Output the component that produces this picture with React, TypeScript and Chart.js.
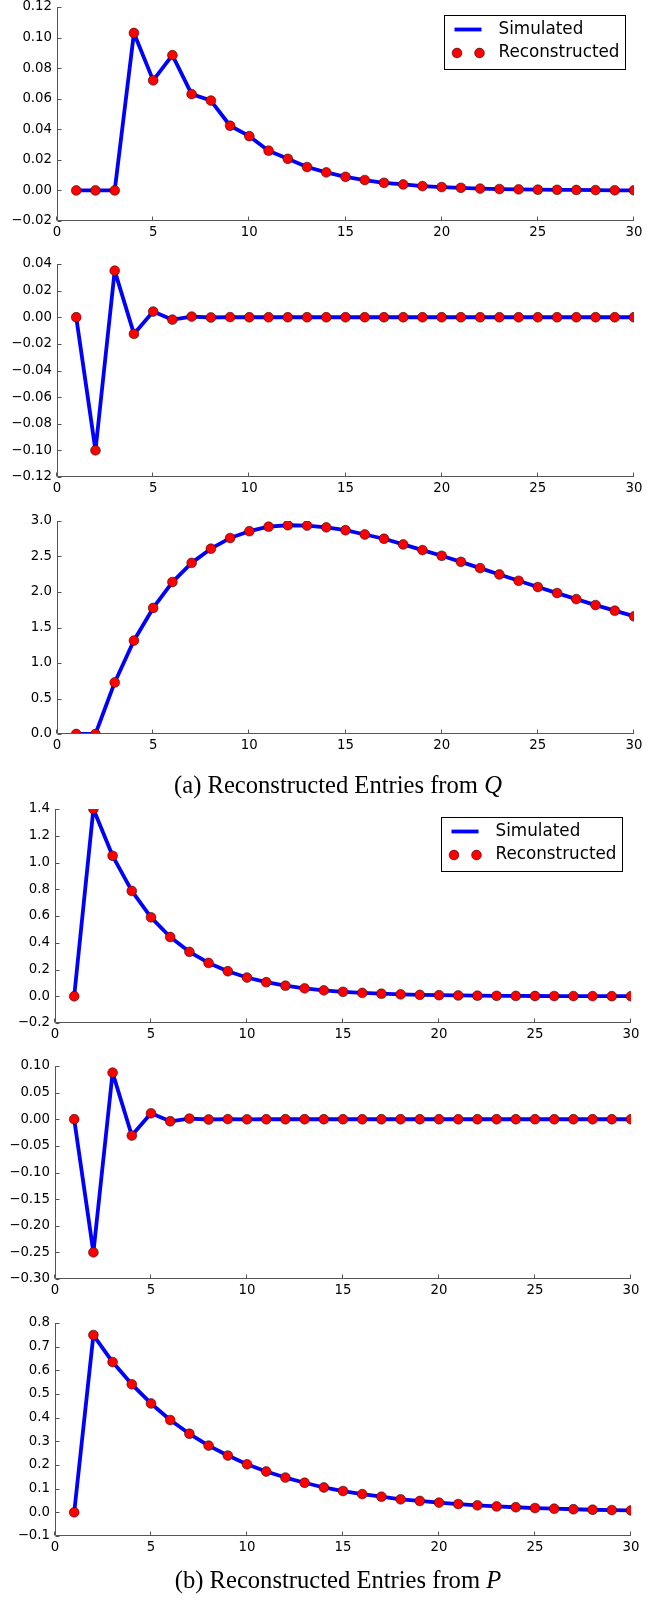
import React, { useEffect, useRef } from "react";
import { Chart, registerables } from "chart.js";

Chart.register(...registerables);

// ---------------- data ----------------
const xValues = [1, 2, 3, 4, 5, 6, 7, 8, 9, 10, 11, 12, 13, 14, 15, 16, 17, 18, 19, 20, 21, 22, 23, 24, 25, 26, 27, 28, 29, 30];
const xTicks = [0, 5, 10, 15, 20, 25, 30];

const qEntry1Simulated = [0, 0, 0, 0.103, 0.072, 0.0885, 0.063, 0.0588, 0.0423, 0.0355, 0.026, 0.0207, 0.0153, 0.0118, 0.0089, 0.0068, 0.005, 0.0039, 0.0028, 0.0022, 0.0017, 0.0012, 0.0009, 0.0007, 0.0005, 0.0004, 0.0003, 0.0002, 0.0001, 0.0001];
const qEntry1Reconstructed = [...qEntry1Simulated];
const qEntry1Ticks = [-0.02, 0, 0.02, 0.04, 0.06, 0.08, 0.1, 0.12];

const qEntry2Simulated = [0, -0.1, 0.035, -0.0125, 0.0043, -0.0018, 0.0005, -0.0002, 0.0001, 0, 0, 0, 0, 0, 0, 0, 0, 0, 0, 0, 0, 0, 0, 0, 0, 0, 0, 0, 0, 0];
const qEntry2Reconstructed = [...qEntry2Simulated];
const qEntry2Ticks = [-0.12, -0.1, -0.08, -0.06, -0.04, -0.02, 0, 0.02, 0.04];

const qEntry3Simulated = [0, 0, 0.726, 1.316, 1.775, 2.14, 2.41, 2.61, 2.76, 2.856, 2.92, 2.94, 2.935, 2.91, 2.87, 2.81, 2.75, 2.67, 2.59, 2.51, 2.425, 2.336, 2.247, 2.158, 2.07, 1.985, 1.9, 1.816, 1.737, 1.657];
const qEntry3Reconstructed = [...qEntry3Simulated];
const qEntry3Ticks = [0, 0.5, 1, 1.5, 2, 2.5, 3];

const pEntry1Simulated = [0, 1.4, 1.05, 0.7875, 0.59, 0.443, 0.332, 0.249, 0.187, 0.14, 0.105, 0.079, 0.059, 0.044, 0.033, 0.025, 0.019, 0.014, 0.0105, 0.0079, 0.0059, 0.0044, 0.0033, 0.0025, 0.0019, 0.0014, 0.0011, 0.0008, 0.0006, 0.0004];
const pEntry1Reconstructed = [...pEntry1Simulated];
const pEntry1Ticks = [-0.2, 0, 0.2, 0.4, 0.6, 0.8, 1, 1.2, 1.4];

const pEntry2Simulated = [0, -0.25, 0.0875, -0.0306, 0.0112, -0.0038, 0.0013, -0.0005, 0.0002, -0.0001, 0, 0, 0, 0, 0, 0, 0, 0, 0, 0, 0, 0, 0, 0, 0, 0, 0, 0, 0, 0];
const pEntry2Reconstructed = [...pEntry2Simulated];
const pEntry2Ticks = [-0.3, -0.25, -0.2, -0.15, -0.1, -0.05, 0, 0.05, 0.1];

const pEntry3Simulated = [0, 0.749, 0.635, 0.541, 0.46, 0.39, 0.332, 0.282, 0.24, 0.203, 0.1725, 0.147, 0.125, 0.105, 0.09, 0.077, 0.066, 0.055, 0.048, 0.041, 0.035, 0.0295, 0.025, 0.0215, 0.018, 0.0155, 0.013, 0.011, 0.0095, 0.008];
const pEntry3Reconstructed = [...pEntry3Simulated];
const pEntry3Ticks = [-0.1, 0, 0.1, 0.2, 0.3, 0.4, 0.5, 0.6, 0.7, 0.8];

const seriesNames = ["Simulated", "Reconstructed"];
const captionA = "(a) Reconstructed Entries from ";
const captionAVar = "Q";
const captionB = "(b) Reconstructed Entries from ";
const captionBVar = "P";

// ---------------- layout / style ----------------
const PAGE_W = 662;
const PAD_TOP = 20;
const X_AXIS_H = 30;
const SPINE = "#555555";
const BLUE = "#0000ff";
const RED = "#ff0000";
const TICK_FONT = { family: '"DejaVu Sans", sans-serif', size: 13.3 };
const MARKER_R = 4.9;

type Panel = {
  top: number; bottom: number; left: number; right: number;
  sim: number[]; rec: number[]; ticks: number[]; decimals: number; legend: boolean;
};

const panels: Panel[] = [
  { top: 7, bottom: 221, left: 57, right: 634, sim: qEntry1Simulated, rec: qEntry1Reconstructed, ticks: qEntry1Ticks, decimals: 2, legend: true },
  { top: 264, bottom: 477, left: 57, right: 634, sim: qEntry2Simulated, rec: qEntry2Reconstructed, ticks: qEntry2Ticks, decimals: 2, legend: false },
  { top: 521, bottom: 734, left: 57, right: 634, sim: qEntry3Simulated, rec: qEntry3Reconstructed, ticks: qEntry3Ticks, decimals: 1, legend: false },
  { top: 809, bottom: 1023, left: 55, right: 631, sim: pEntry1Simulated, rec: pEntry1Reconstructed, ticks: pEntry1Ticks, decimals: 1, legend: true },
  { top: 1066, bottom: 1279, left: 55, right: 631, sim: pEntry2Simulated, rec: pEntry2Reconstructed, ticks: pEntry2Ticks, decimals: 2, legend: false },
  { top: 1323, bottom: 1536, left: 55, right: 631, sim: pEntry3Simulated, rec: pEntry3Reconstructed, ticks: pEntry3Ticks, decimals: 1, legend: false },
];

const fmt = (v: number, d: number) => {
  let s = v.toFixed(d);
  if (/^-0\.0*$/.test(s)) s = s.slice(1);
  return s.replace("-", "\u2212");
};

const mplAxesPlugin = {
  id: "mplAxes",
  afterDatasetsDraw(chart: any) {
    const { ctx, chartArea: ca, scales } = chart;
    const L = Math.round(ca.left) + 0.5;
    const B = Math.round(ca.bottom) - 0.5;
    ctx.save();
    ctx.strokeStyle = SPINE;
    ctx.lineWidth = 1;
    ctx.beginPath();
    ctx.moveTo(L, Math.round(ca.top));
    ctx.lineTo(L, B);
    ctx.lineTo(Math.round(ca.right), B);
    for (const t of scales.x.ticks) {
      const px = Math.round(scales.x.getPixelForValue(t.value)) - 0.5;
      ctx.moveTo(px, B);
      ctx.lineTo(px, B - 4);
    }
    for (const t of scales.y.ticks) {
      const py = Math.round(scales.y.getPixelForValue(t.value)) + 0.5;
      ctx.moveTo(L, py);
      ctx.lineTo(L + 4, py);
    }
    ctx.stroke();
    ctx.restore();
  },
};

const mplLegendPlugin = {
  id: "mplLegend",
  afterDraw(chart: any, _args: any, opts: any) {
    if (!opts || !opts.show) return;
    const { ctx, chartArea: ca } = chart;
    ctx.save();
    ctx.font = '16.8px "DejaVu Sans", sans-serif';
    const tw = Math.max(...seriesNames.map((n) => ctx.measureText(n).width));
    const padL = 10, handle = 27, gap = 17, padR = 7;
    const w = padL + handle + gap + tw + padR;
    const h = 54;
    const right = Math.round(ca.right - 9) + 0.5;
    const left = Math.round(right - w) + 0.5;
    const top = Math.round(ca.top + 8) + 0.5;
    ctx.fillStyle = "#ffffff";
    ctx.fillRect(left, top, right - left, h);
    ctx.strokeStyle = "#000000";
    ctx.lineWidth = 1;
    ctx.strokeRect(left, top, right - left, h);
    const y1 = top + 14;
    const y2 = top + 37.5;
    ctx.strokeStyle = BLUE;
    ctx.lineWidth = 3.8;
    ctx.beginPath();
    ctx.moveTo(left + padL, y1);
    ctx.lineTo(left + padL + handle, y1);
    ctx.stroke();
    for (const dx of [12.5, 35]) {
      ctx.beginPath();
      ctx.arc(left + dx, y2, MARKER_R, 0, Math.PI * 2);
      ctx.fillStyle = RED;
      ctx.fill();
      ctx.strokeStyle = "#000";
      ctx.lineWidth = 0.5;
      ctx.stroke();
    }
    ctx.fillStyle = "#000";
    ctx.textBaseline = "middle";
    ctx.textAlign = "left";
    ctx.fillText(seriesNames[0], left + padL + handle + gap, y1);
    ctx.fillText(seriesNames[1], left + padL + handle + gap, y2);
    ctx.restore();
  },
};

function PanelChart({ panel }: { panel: Panel }) {
  const ref = useRef<HTMLCanvasElement | null>(null);
  const h = panel.bottom - panel.top;
  const canvasH = PAD_TOP + h + X_AXIS_H;
  useEffect(() => {
    if (!ref.current) return;
    const simPts = xValues.map((x, i) => ({ x, y: panel.sim[i] }));
    const recPts = xValues.map((x, i) => ({ x, y: panel.rec[i] }));
    const chart = new Chart(ref.current, {
      type: "line",
      data: {
        datasets: [
          {
            label: seriesNames[1],
            data: recPts,
            showLine: false,
            pointRadius: MARKER_R,
            pointBackgroundColor: RED,
            pointBorderColor: "#000000",
            pointBorderWidth: 0.5,
            clip: 0,
          } as any,
          {
            label: seriesNames[0],
            data: simPts,
            borderColor: BLUE,
            borderWidth: 3.8,
            borderJoinStyle: "round",
            borderCapStyle: "square",
            pointRadius: 0,
            tension: 0,
            fill: false,
            clip: 0,
          } as any,
        ],
      },
      options: {
        animation: false,
        responsive: false,
        maintainAspectRatio: false,
        devicePixelRatio: 1,
        events: [],
        layout: { padding: { top: PAD_TOP, right: PAGE_W - panel.right, left: 0, bottom: 0 } },
        plugins: {
          legend: { display: false },
          tooltip: { enabled: false },
          mplLegend: { show: panel.legend },
        } as any,
        scales: {
          x: {
            type: "linear",
            min: 0,
            max: 30,
            afterBuildTicks: (s: any) => { s.ticks = xTicks.map((v) => ({ value: v })); },
            afterFit: (s: any) => { s.height = X_AXIS_H; },
            grid: { display: false, drawTicks: false },
            border: { display: false },
            ticks: { color: "#000", font: TICK_FONT, padding: 4, maxRotation: 0, autoSkip: false, callback: (v: any) => String(v) },
          },
          y: {
            type: "linear",
            min: panel.ticks[0],
            max: panel.ticks[panel.ticks.length - 1],
            afterBuildTicks: (s: any) => { s.ticks = panel.ticks.map((v) => ({ value: v })); },
            afterFit: (s: any) => { s.width = panel.left; },
            grid: { display: false, drawTicks: false },
            border: { display: false },
            ticks: { color: "#000", font: TICK_FONT, padding: 5, autoSkip: false, callback: (v: any) => fmt(Number(v), panel.decimals) },
          },
        },
      },
      plugins: [mplAxesPlugin, mplLegendPlugin],
    });
    return () => chart.destroy();
  }, [panel]);
  return (
    <canvas
      ref={ref}
      width={PAGE_W}
      height={canvasH}
      style={{ position: "absolute", left: 0, top: panel.top - PAD_TOP, width: PAGE_W, height: canvasH, display: "block" }}
    />
  );
}

const captionStyle: React.CSSProperties = {
  position: "absolute",
  left: 0,
  width: 676,
  textAlign: "center",
  fontFamily: '"Liberation Serif", "Times New Roman", serif',
  fontSize: 24.6,
  lineHeight: "26px",
  color: "#000",
  whiteSpace: "nowrap",
};

export default function App() {
  return (
    <div style={{ position: "absolute", left: 0, top: 0, width: PAGE_W, height: 1598, background: "#fff", overflow: "hidden" }}>
      {panels.map((p, i) => (
        <PanelChart key={i} panel={p} />
      ))}
      <div style={{ ...captionStyle, top: 772 }}>
        {captionA}<i>{captionAVar}</i>
      </div>
      <div style={{ ...captionStyle, top: 1567 }}>
        {captionB}<i>{captionBVar}</i>
      </div>
    </div>
  );
}
